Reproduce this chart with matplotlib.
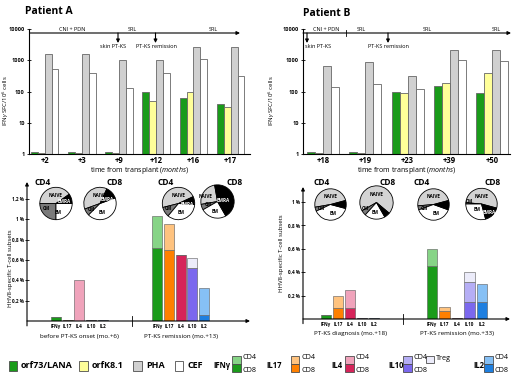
import numpy as np
import matplotlib
matplotlib.use('Agg')
import matplotlib.pyplot as plt
from matplotlib.patches import Rectangle

plt.rcParams['font.family'] = ['Open Sans', 'DejaVu Sans']
plt.rcParams['mathtext.fontset'] = 'custom'
plt.rcParams['mathtext.rm'] = 'Open Sans'
plt.rcParams['mathtext.it'] = 'Open Sans:italic'

# ---- data: ELISpot (IFNg SFC/10^6 cells) ----
months_A = ['+2', '+3', '+9', '+12', '+16', '+17']
lana_A = [1.15, 1.15, 1.15, 98, 60, 40]
k81_A = [1.1, 1.1, 1.1, 51, 98, 31]
pha_A = [1550, 1550, 1000, 1000, 2600, 2600]
cef_A = [510, 400, 133, 400, 1070, 315]

months_B = ['+18', '+19', '+23', '+39', '+50']
lana_B = [1.15, 1.15, 94, 154, 91]
k81_B = [1.1, 1.1, 88, 192, 380]
pha_B = [660, 880, 315, 2130, 2130]
cef_B = [136, 174, 117, 1000, 950]

# ---- data: HHV8-specific T-cell subsets (%) ----
cytokines = ['IFNγ', 'IL17', 'IL4', 'IL10', 'IL2']
groups_A = ['before PT-KS onset (mo.+6)', 'PT-KS remission (mo.+13)']
cd8_A = [[0.036, 0.005, 0.0, 0.008, 0.008], [0.72, 0.70, 0.65, 0.52, 0.055]]
cd4_A = [[0.0, 0.0, 0.40, 0.0, 0.0], [0.31, 0.25, 0.0, 0.0, 0.265]]
treg_A = [0.0, 0.10]

groups_B = ['PT-KS diagnosis (mo.+18)', 'PT-KS remission (mo.+33)']
cd8_B = [[0.034, 0.09, 0.09, 0.005, 0.005], [0.45, 0.07, 0.008, 0.143, 0.143]]
cd4_B = [[0.0, 0.105, 0.16, 0.0, 0.0], [0.15, 0.03, 0.0, 0.17, 0.157]]
treg_B = [0.0, 0.086]

# pies: fractions NAIVE, CM, EM, EMRA (counter-clockwise) + start angle
subsets = ['NAIVE', 'CM', 'EM', 'EMRA']
pies_A = [[40.3, 25, 25, 9.7], [37.5, 7, 43, 12.5], [47, 10, 35, 8], [25, 5.5, 25, 44.5]]
start_A = [35, 65, 25, 100]
pies_B = [[48.6, 4.2, 38.9, 8.3], [69.4, 5, 20, 5.6], [47.2, 4.2, 38.9, 9.7], [52.8, 1.4, 29.2, 16.6]]
start_B = [15, 320, 15, -15]

W, H = 520, 377
def box(x0, y0, x1, y1):
    return [x0 / W, 1 - y1 / H, (x1 - x0) / W, (y1 - y0) / H]

def fp(x, y):
    return (x / W, 1 - y / H)

c_lana, c_k81, c_pha, c_cef = '#1a9b1a', '#ffff99', '#d0d0d0', 'white'
c_cd8 = ['#1a9b1a', '#ff8000', '#d6245a', '#7b68ee', '#1e7fe0']
c_cd4 = ['#86d486', '#ffc37f', '#f0a3bb', '#b5aef5', '#86c0f5']
c_treg = '#ececfa'
c_sub = {'NAIVE': '#d3d3d3', 'CM': '#7a7a7a', 'EM': 'white', 'EMRA': 'black'}

fig = plt.figure(figsize=(5.2, 3.77), dpi=100)


def elispot(rect, months, series, xlim, w, lab_x):
    ax = fig.add_axes(rect)
    x = np.arange(len(months))
    cols = [c_lana, c_k81, c_pha, c_cef]
    for i, (vals, c) in enumerate(zip(series, cols)):
        ax.bar(x + (i - 1.5) * w, np.array(vals) - 1, w, bottom=1, color=c,
               edgecolor='0.4', linewidth=0.6)
    ax.set_yscale('log')
    ax.set_ylim(1, 10000)
    ax.set_xlim(*xlim)
    ax.set_yticks([1, 10, 100, 1000, 10000])
    ax.set_yticklabels(['1', '10', '100', '1000', '10000'], fontsize=4, fontweight='bold')
    ax.minorticks_off()
    ax.tick_params(axis='y', direction='inout', length=3, width=0.6, pad=1.5)
    ax.set_xticks(x)
    ax.set_xticklabels(months, fontsize=5.5, fontweight='bold')
    ax.tick_params(axis='x', length=0, pad=1.5)
    for s in ['top', 'right']:
        ax.spines[s].set_visible(False)
    for s in ['left', 'bottom']:
        ax.spines[s].set_linewidth(0.8)
    ax.set_xlabel(r'time from transplant $\mathit{(months)}$', fontsize=5, labelpad=0)
    ax.set_ylabel(r'IFN$\gamma$ SFC/10$^6$ cells', fontsize=4.3)
    ax.yaxis.set_label_coords(lab_x, 0.43)
    ax.patch.set_alpha(0)
    return ax


axA = elispot(box(29, 29, 250, 154), months_A, [lana_A, k81_A, pha_A, cef_A], (-0.42, 5.52), 0.185, -0.083)
axB = elispot(box(303, 29, 510, 154), months_B, [lana_B, k81_B, pha_B, cef_B], (-0.48, 4.43), 0.19, -0.128)

fig.text(*fp(25, 12), 'Patient A', fontsize=7.5, fontweight='bold', va='center')
fig.text(*fp(303, 13), 'Patient B', fontsize=7.5, fontweight='bold', va='center')

# timelines
arr = dict(arrowstyle='-|>', lw=0.8, color='black', mutation_scale=5, shrinkA=0, shrinkB=0)
def tl_arrow(x0, y0, x1, y1):
    fig.add_artist(matplotlib.patches.FancyArrowPatch(fp(x0, y0), fp(x1, y1),
                   transform=fig.transFigure, **arr))

def tl_text(x, y, s, ha='center'):
    fig.text(*fp(x, y), s, fontsize=4, ha=ha, va='center')

tl_arrow(30, 33, 240, 33)
tl_text(72, 29.5, 'CNI + PDN'); tl_text(132, 29.5, 'SRL'); tl_text(213, 29.5, 'SRL')
tl_arrow(118, 33, 118, 43); tl_arrow(155.5, 33, 155.5, 43)
tl_text(113, 47, 'skin PT-KS'); tl_text(156, 47, 'PT-KS remission')

tl_arrow(303, 33, 511, 33)
fig.add_artist(plt.Line2D([346 / W, 346 / W], [1 - 30 / H, 1 - 36 / H], color='black', lw=0.6))
tl_text(326, 29.5, 'CNI + PDN'); tl_text(361, 29.5, 'SRL'); tl_text(427, 29.5, 'SRL'); tl_text(496, 29.5, 'SRL')
tl_arrow(307, 33, 307, 43); tl_arrow(388, 33, 388, 43)
tl_text(305, 47, 'skin PT-KS', ha='left'); tl_text(388, 47, 'PT-KS remission')


def subsets_panel(rect, xlim, ylim, pos, cd8, cd4, treg, groups, divider, ticks, ticklabels, lab_xy):
    ax = fig.add_axes(rect)
    for g in range(2):
        x = np.array(pos[g])
        b8 = np.array(cd8[g]); b4 = np.array(cd4[g])
        ax.bar(x, b8, 0.85, color=c_cd8, edgecolor='0.35', linewidth=0.4)
        ax.bar(x, b4, 0.85, bottom=b8, color=c_cd4, edgecolor='0.35', linewidth=0.4)
        ax.bar(x[3], treg[g], 0.85, bottom=b8[3] + b4[3], color=c_treg, edgecolor='0.35', linewidth=0.4)
        for xi, lab in zip(x, cytokines):
            ax.text(xi, -0.025 * ylim, lab, fontsize=3.3, fontweight='bold', ha='center', va='top')
        ax.text(x.mean(), -0.09 * ylim, groups[g], fontsize=4.5, ha='center', va='top')
    ax.set_xlim(*xlim)
    ax.set_ylim(0, ylim)
    for s in ax.spines.values():
        s.set_visible(False)
    ax.annotate('', xy=(0, 1), xytext=(0, -0.035), xycoords='axes fraction', arrowprops=arr)
    ax.annotate('', xy=(1, 0), xytext=(0, 0), xycoords='axes fraction', arrowprops=arr)
    ax.plot([divider, divider], [-0.035 * ylim, 0.035 * ylim], color='black', lw=0.6, clip_on=False)
    ax.set_xticks([])
    ax.set_yticks(ticks)
    ax.set_yticklabels(ticklabels, fontsize=3.3, fontweight='bold')
    ax.tick_params(axis='y', direction='inout', length=3, width=0.6, pad=1)
    ax.set_ylabel('HHV8-specific T-cell subsets', fontsize=4.3)
    ax.yaxis.set_label_coords(*lab_xy)
    ax.patch.set_alpha(0)
    return ax


pos_A = [[0, 1, 2, 3, 4], [8.66, 9.66, 10.66, 11.66, 12.66]]
subsets_panel(box(27, 182, 250, 321), (-2.48, 16.58), 1.367, pos_A, cd8_A, cd4_A, treg_A,
              groups_A, 6.5, [0.2, 0.4, 0.6, 0.8, 1.0, 1.2],
              ['0,2 %', '0,4 %', '0,6 %', '0,8 %', '1 %', '1,2 %'], (-0.065, 0.38))
pos_B = [[0, 1, 2, 3, 4], [8.83, 9.87, 10.91, 11.95, 12.99]]
subsets_panel(box(303, 187, 510, 319), (-1.92, 15.33), 1.128, pos_B, cd8_B, cd4_B, treg_B,
              groups_B, 6.42, [0.2, 0.4, 0.6, 0.8, 1.0],
              ['0,2 %', '0,4 %', '0,6 %', '0,8 %', '1 %'], (-0.092, 0.5))

# pies
lab_pos = {'NAIVE': (0.0, 0.5), 'CM': (-0.6, -0.28), 'EM': (0.15, -0.55), 'EMRA': (0.5, 0.12)}
def pie(cx, cy, r, fr, start, lp=None, show=('NAIVE', 'CM', 'EM', 'EMRA')):
    ax = fig.add_axes(box(cx - r, cy - r, cx + r, cy + r))
    ax.pie(fr, colors=[c_sub[s] for s in subsets], startangle=start, counterclock=True,
           radius=1, wedgeprops=dict(edgecolor='black', linewidth=0.6))
    ax.set_xlim(-1.05, 1.05); ax.set_ylim(-1.05, 1.05)
    ax.set_aspect('equal')
    p = dict(lab_pos)
    if lp:
        p.update(lp)
    for s in show:
        ax.text(*p[s], s, fontsize=3.3, fontweight='bold', ha='center', va='center',
                color='white' if s == 'EMRA' else 'black')
    return ax

pie(56, 203.5, 17, pies_A[0], start_A[0])
pie(100, 203.5, 17, pies_A[1], start_A[1], {'EMRA': (0.45, 0.25), 'CM': (-0.55, -0.35)})
pie(178.5, 203.5, 17, pies_A[2], start_A[2], {'EMRA': (0.55, -0.05)})
pie(217.5, 201.5, 17.5, pies_A[3], start_A[3],
    {'NAIVE': (-0.72, 0.3), 'CM': (-0.55, -0.2), 'EM': (-0.15, -0.6), 'EMRA': (0.35, 0.05)})
pie(330.5, 204.5, 16.5, pies_B[0], start_B[0], show=('NAIVE', 'CM', 'EM'))
pie(376.5, 202.5, 17.5, pies_B[1], start_B[1], {'CM': (-0.65, -0.35), 'EM': (-0.1, -0.6)},
    show=('NAIVE', 'CM', 'EM'))
pie(433.5, 204.5, 16.5, pies_B[2], start_B[2], show=('NAIVE', 'CM', 'EM'))
pie(481.5, 204, 16.5, pies_B[3], start_B[3],
    {'CM': (-0.8, 0.15), 'EM': (-0.3, -0.35), 'EMRA': (0.5, -0.55)})

for x, s in [(42.5, 'CD4'), (115, 'CD8'), (166, 'CD4'), (235, 'CD8'),
             (322, 'CD4'), (388, 'CD8'), (422, 'CD4'), (493, 'CD8')]:
    fig.text(*fp(x, 182), s, fontsize=6, fontweight='bold', ha='center', va='center')

# legend
def sq(x0, y0, x1, y1, c):
    fig.add_artist(Rectangle(fp(x0, y1), (x1 - x0) / W, (y1 - y0) / H, transform=fig.transFigure,
                             facecolor=c, edgecolor='0.3', linewidth=0.6))

def lt(x, y, s, fs=6.5, bold=True):
    fig.text(*fp(x, y), s, fontsize=fs, fontweight='bold' if bold else 'normal', ha='left', va='center')

for (x0, c, s, tx) in [(8.5, c_lana, 'orf73/LANA', 21), (79, c_k81, 'orfK8.1', 91.5),
                       (133, c_pha, 'PHA', 146), (174.5, c_cef, 'CEF', 187)]:
    sq(x0, 361, x0 + 8.5, 371, c)
    lt(tx, 365.5, s)

for (tx, name, x0, i) in [(213, 'IFNγ', 232, 0), (266.5, 'IL17', 290.7, 1), (331.5, 'IL4', 345, 2),
                          (388, 'IL10', 403.3, 3), (473, 'IL2', 484, 4)]:
    lt(tx, 365, name, fs=5.5)
    sq(x0, 355.7, x0 + 8.5, 364, c_cd4[i])
    sq(x0, 364, x0 + 8.5, 372.3, c_cd8[i])
    lt(x0 + 10.5, 357.5, 'CD4', fs=5.2, bold=False)
    lt(x0 + 10.5, 371, 'CD8', fs=5.2, bold=False)
sq(426, 356, 433.5, 362.7, c_treg)
lt(435.5, 359, 'Treg', fs=5.2, bold=False)

fig.savefig('out.png', dpi=100)
